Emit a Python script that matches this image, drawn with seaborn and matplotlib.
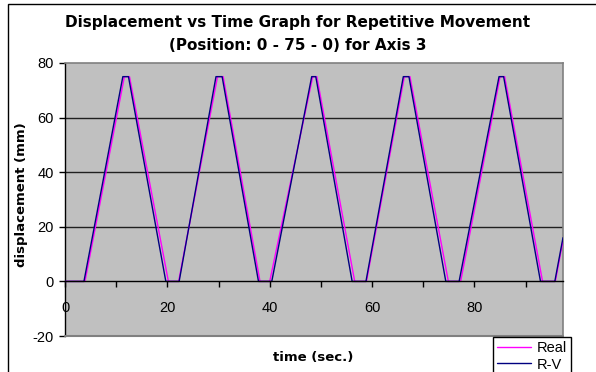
import matplotlib
matplotlib.use("Agg")
import matplotlib.pyplot as plt
import seaborn as sns
from matplotlib.patches import Rectangle
from matplotlib.lines import Line2D

# ---- data ----
rv_time = [0, 3.7, 11.3, 12.4, 19.7, 22.3, 29.5, 30.7, 37.8, 40.4, 48.2, 49.0,
           56.1, 58.8, 66.1, 67.2, 74.4, 77.0, 84.8, 85.7, 92.9, 95.7, 97.3]
rv_disp = [0, 0, 75, 75, 0, 0, 75, 75, 0, 0, 75, 75,
           0, 0, 75, 75, 0, 0, 75, 75, 0, 0, 16]
real_time = [0, 3.9, 11.6, 12.6, 20.2, 22.2, 29.8, 30.9, 38.1, 40.0, 48.4, 49.2,
             56.6, 58.9, 66.3, 67.4, 74.9, 77.3, 85.0, 85.9, 93.3, 95.8, 97.3]
real_disp = [0, 0, 75, 75, 0, 0, 75, 75, 0, 0, 75, 75,
             0, 0, 75, 75, 0, 0, 75, 75, 0, 0, 15]
series_names = ["Real", "R-V"]
x_ticks = [0, 10, 20, 30, 40, 50, 60, 70, 80, 90]
x_ticklabels = ["0", "", "20", "", "40", "", "60", "", "80", ""]
y_ticks = [-20, 0, 20, 40, 60, 80]

sns.set_style("white")
plt.rcParams["font.family"] = ["Liberation Sans", "DejaVu Sans"]
plt.rcParams["axes.unicode_minus"] = False
plt.rcParams["text.color"] = "black"
plt.rcParams["xtick.color"] = "black"
plt.rcParams["ytick.color"] = "black"

W, H = 596, 372
fig = plt.figure(figsize=(W / 100, H / 100), dpi=100)
ax = fig.add_axes([65 / W, (H - 336) / H, (563 - 65) / W, (336 - 63) / H])
ax.set_facecolor("#C0C0C0")

for y in [20, 40, 60]:
    ax.axhline(y, color="#202020", lw=1.0, zorder=1)

sns.lineplot(x=real_time, y=real_disp, color="#FF00FF", lw=1.0, ax=ax,
             label=series_names[0], zorder=3, legend=False)
sns.lineplot(x=rv_time, y=rv_disp, color="#000080", lw=1.0, ax=ax,
             label=series_names[1], zorder=4, legend=False)

ax.set_xlim(0, 97.3)
ax.set_ylim(-20, 80)

ax.spines["bottom"].set_position(("data", 0))
ax.spines["bottom"].set_color("black")
ax.spines["bottom"].set_linewidth(1.0)
ax.spines["bottom"].set_zorder(5)
ax.spines["left"].set_color("black")
ax.spines["left"].set_linewidth(1.0)
for s in ["top", "right"]:
    ax.spines[s].set_color("#808080")
    ax.spines[s].set_linewidth(1.2)
ax.axhline(-20, color="#808080", lw=1.5, clip_on=False, zorder=5)

ax.set_xticks(x_ticks)
ax.set_xticklabels(x_ticklabels)
ax.set_yticks(y_ticks)
ax.tick_params(axis="x", direction="out", length=4, width=1, pad=10,
               labelsize=10.5, colors="black", bottom=True)
ax.tick_params(axis="y", direction="out", length=4, width=1, pad=4,
               labelsize=10.5, colors="black", left=True)

ax.set_xlabel("")
ax.set_ylabel("")
lab_font = dict(fontsize=9.5, fontweight="bold",
                family=["DejaVu Sans"], color="black")
fig.text(22 / W, 1 - 195 / H, "displacement (mm)", rotation=90, ha="center",
         va="center", **lab_font)
fig.text(313 / W, 1 - 358 / H, "time (sec.)", ha="center", va="center",
         **lab_font)

fig.text(298 / W, 1 - 22 / H, "Displacement vs Time Graph for Repetitive Movement",
         ha="center", va="center", fontsize=11, fontweight="bold",
         family=["DejaVu Sans"], color="black")
fig.text(298 / W, 1 - 45 / H, "(Position: 0 - 75 - 0) for Axis 3",
         ha="center", va="center", fontsize=11, fontweight="bold",
         family=["DejaVu Sans"], color="black")

# outer chart frame
fig.add_artist(Rectangle((8 / W, -0.2), 1.2, (H - 4) / H + 0.2, fill=False,
                         edgecolor="black", lw=1.0, transform=fig.transFigure))

handles = [Line2D([], [], color="#FF00FF", lw=1.0),
           Line2D([], [], color="#000080", lw=1.0)]
leg = fig.legend(handles, series_names, loc="upper left",
                 bbox_to_anchor=(493 / W, 1 - 337 / H), frameon=True,
                 fontsize=10.5, handlelength=2.3, handletextpad=0.4,
                 borderpad=0.3, labelspacing=0.15, borderaxespad=0,
                 fancybox=False, edgecolor="black", framealpha=1)
leg.get_frame().set_linewidth(1.0)
for t in leg.get_texts():
    t.set_color("black")

fig.savefig("out.png", dpi=100)
